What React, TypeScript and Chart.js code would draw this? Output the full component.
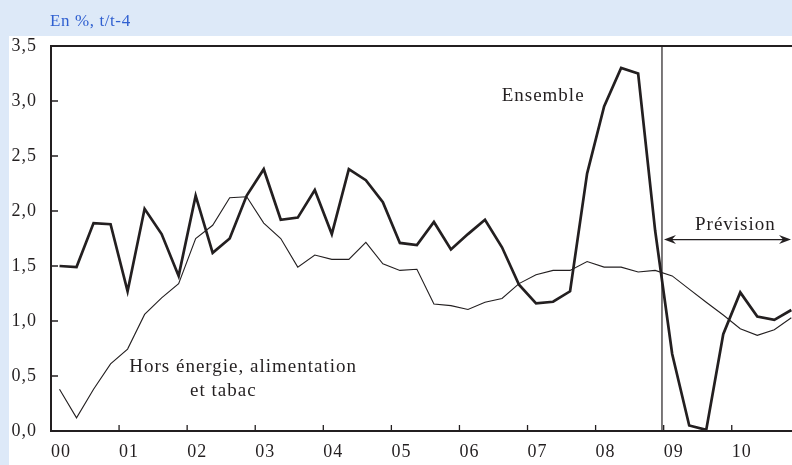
import React, { useEffect, useRef } from 'react';
import { Chart, registerables } from 'chart.js';

Chart.register(...registerables);

// ---- Data ----
const titleText = 'En %, t/t-4';
const yearLabels = ['00', '01', '02', '03', '04', '05', '06', '07', '08', '09', '10'];
const yTickValues = [0, 0.5, 1, 1.5, 2, 2.5, 3, 3.5];
const yTickLabels = ['0,0', '0,5', '1,0', '1,5', '2,0', '2,5', '3,0', '3,5'];

// Quarterly, 2000 T1 .. 2010 T4 (index 0 = 2000 T1)
const ensemble = [
  1.50, 1.49, 1.89, 1.88,
  1.27, 2.02, 1.79, 1.41,
  2.14, 1.62, 1.75, 2.14,
  2.38, 1.92, 1.94, 2.19,
  1.79, 2.38, 2.28, 2.08,
  1.71, 1.69, 1.90, 1.65,
  1.79, 1.92, 1.67, 1.33,
  1.16, 1.175, 1.27, 2.34,
  2.95, 3.30, 3.25, 1.82,
  0.70, 0.05, 0.01, 0.88,
  1.26, 1.04, 1.01, 1.10,
];
const horsEnergie = [
  0.38, 0.12, 0.38, 0.61,
  0.745, 1.06, 1.21, 1.34,
  1.75, 1.87, 2.12, 2.13,
  1.89, 1.75, 1.49, 1.60,
  1.56, 1.56, 1.715, 1.52,
  1.46, 1.47, 1.155, 1.14,
  1.105, 1.17, 1.205, 1.34,
  1.42, 1.46, 1.46, 1.54,
  1.49, 1.49, 1.445, 1.46,
  1.41, 1.29, 1.17, 1.055,
  0.93, 0.87, 0.92, 1.03,
];
const forecastStart = 35.4; // quarter-index position of the forecast divider
const arrowLevel = 1.74;
const ensembleLabel = { text: 'Ensemble', x: 25.98, y: 3.0 };
const previsionLabel = { text: 'Prévision', x: 37.34, y: 1.83 };
const horsLabel1 = { text: 'Hors énergie, alimentation', x: 4.1, y: 0.536 };
const horsLabel2 = { text: 'et tabac', x: 7.67, y: 0.314 };

// ---- Styles ----
const BG_BLUE = '#dde9f8';
const TITLE_BLUE = '#2f5fd0';
const INK = '#231f20';
const SERIF = '"Liberation Serif", "Times New Roman", serif';

const decor = {
  id: 'decor',
  beforeDraw(chart: any) {
    const { ctx, width, height } = chart;
    ctx.save();
    ctx.fillStyle = BG_BLUE;
    ctx.fillRect(0, 0, width, height);
    ctx.fillStyle = '#ffffff';
    ctx.fillRect(9, 36, width - 9, height - 36);
    ctx.fillStyle = TITLE_BLUE;
    ctx.font = `17px ${SERIF}`;
    (ctx as any).letterSpacing = '0.6px';
    ctx.textBaseline = 'alphabetic';
    ctx.textAlign = 'left';
    ctx.fillText(titleText, 50, 26);
    ctx.restore();
    (ctx as any).letterSpacing = '1px';
  },
  afterDraw(chart: any) {
    const { ctx, chartArea: a } = chart;
    const xs = chart.scales.x;
    const ys = chart.scales.y;
    ctx.save();
    (ctx as any).letterSpacing = '0px';
    ctx.strokeStyle = INK;
    ctx.fillStyle = INK;
    ctx.lineCap = 'butt';
    // frame
    ctx.lineWidth = 2;
    ctx.beginPath();
    ctx.moveTo(a.left - 1, a.top);
    ctx.lineTo(a.right, a.top);
    ctx.moveTo(a.left, a.top);
    ctx.lineTo(a.left, a.bottom);
    ctx.moveTo(a.left - 1, a.bottom);
    ctx.lineTo(a.right, a.bottom);
    ctx.stroke();
    // inward ticks
    ctx.lineWidth = 1.3;
    ctx.beginPath();
    yTickValues.forEach((v) => {
      const py = ys.getPixelForValue(v);
      ctx.moveTo(a.left, py);
      ctx.lineTo(a.left + 7, py);
    });
    yearLabels.forEach((_, k) => {
      const px = xs.getPixelForValue(-0.5 + 4 * k);
      ctx.moveTo(px, a.bottom);
      ctx.lineTo(px, a.bottom - 6);
    });
    ctx.stroke();
    // forecast divider
    const fx = xs.getPixelForValue(forecastStart);
    ctx.lineWidth = 1.2;
    ctx.beginPath();
    ctx.moveTo(fx, a.top);
    ctx.lineTo(fx, a.bottom);
    ctx.stroke();
    // double arrow
    const ay = ys.getPixelForValue(arrowLevel);
    const x0 = fx + 2;
    const x1 = a.right - 1;
    ctx.lineWidth = 1.3;
    ctx.beginPath();
    ctx.moveTo(x0 + 4, ay);
    ctx.lineTo(x1 - 4, ay);
    ctx.stroke();
    const head = (tip: number, dir: number) => {
      ctx.beginPath();
      ctx.moveTo(tip, ay);
      ctx.lineTo(tip + dir * 12, ay - 4.5);
      ctx.lineTo(tip + dir * 8, ay);
      ctx.lineTo(tip + dir * 12, ay + 4.5);
      ctx.closePath();
      ctx.fill();
    };
    head(x0, 1);
    head(x1, -1);
    // labels
    ctx.font = `19px ${SERIF}`;
    (ctx as any).letterSpacing = '1px';
    ctx.textAlign = 'left';
    ctx.textBaseline = 'alphabetic';
    [ensembleLabel, previsionLabel, horsLabel1, horsLabel2].forEach((l) => {
      ctx.fillText(l.text, xs.getPixelForValue(l.x), ys.getPixelForValue(l.y));
    });
    ctx.restore();
  },
};

export default function App() {
  const canvasRef = useRef<HTMLCanvasElement | null>(null);

  useEffect(() => {
    const canvas = canvasRef.current;
    if (!canvas) return;
    const chart = new Chart(canvas, {
      type: 'line',
      data: {
        datasets: [
          {
            label: 'Ensemble',
            data: ensemble.map((v, i) => ({ x: i, y: v })),
            borderColor: INK,
            borderWidth: 2.7,
            pointRadius: 0,
            tension: 0,
            borderJoinStyle: 'miter',
          },
          {
            label: 'Hors énergie, alimentation et tabac',
            data: horsEnergie.map((v, i) => ({ x: i, y: v })),
            borderColor: INK,
            borderWidth: 1.1,
            pointRadius: 0,
            tension: 0,
            borderJoinStyle: 'miter',
          },
        ],
      },
      options: {
        animation: false,
        responsive: false,
        devicePixelRatio: 1,
        layout: { padding: { left: 9, top: 46, right: 0, bottom: 0 } },
        plugins: { legend: { display: false }, tooltip: { enabled: false }, title: { display: false } },
        scales: {
          x: {
            type: 'linear',
            min: -0.5,
            max: 43.04,
            afterBuildTicks: (s: any) => {
              s.ticks = yearLabels.map((_, k) => ({ value: -0.5 + 4 * k }));
            },
            afterFit: (s: any) => {
              s.height = 34;
            },
            ticks: {
              callback: (_v: any, idx: number) => yearLabels[idx],
              labelOffset: 10,
              padding: 10,
              autoSkip: false,
              maxRotation: 0,
              color: INK,
              font: { family: SERIF, size: 18 },
            },
            grid: { display: false, drawTicks: false },
            border: { display: false },
          },
          y: {
            type: 'linear',
            min: 0,
            max: 3.5,
            afterBuildTicks: (s: any) => {
              s.ticks = yTickValues.map((v) => ({ value: v }));
            },
            afterFit: (s: any) => {
              s.width = 42;
            },
            ticks: {
              callback: (_v: any, idx: number) => yTickLabels[idx],
              padding: 14,
              color: INK,
              font: { family: SERIF, size: 18 },
            },
            grid: { display: false, drawTicks: false },
            border: { display: false },
          },
        },
      },
      plugins: [decor],
    } as any);
    return () => chart.destroy();
  }, []);

  return (
    <div style={{ position: 'absolute', left: 0, top: 0, width: 792, height: 465, overflow: 'hidden' }}>
      <canvas ref={canvasRef} width={792} height={465} style={{ display: 'block', width: 792, height: 465 }} />
    </div>
  );
}
